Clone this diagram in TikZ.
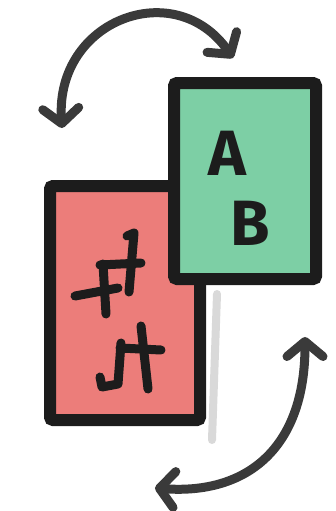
\documentclass[tikz,border=0pt]{standalone}
\usepackage{fontspec}
\setmainfont{Fira Sans}
\usepackage{xcolor}
\usepackage{tikz}
\usetikzlibrary{arrows.meta}

\definecolor{cardgreen}{RGB}{125,207,165}
\definecolor{cardred}{RGB}{236,125,122}
\definecolor{ink}{RGB}{28,28,28}
\definecolor{marker}{RGB}{58,58,58}

\begin{document}
\begin{tikzpicture}[x=1pt, y=-1pt, node distance=70pt]
\tikzstyle{redcard} = [rectangle, rounded corners=3pt, minimum width=150pt, minimum height=234pt, draw=ink, line width=12pt, fill=cardred]
\tikzstyle{greencard} = [rectangle, rounded corners=3pt, minimum width=142pt, minimum height=196pt, draw=ink, line width=12pt, fill=cardgreen]
\tikzstyle{letter} = [text=ink, font=\fontsize{64}{64}\selectfont\bfseries, inner sep=0pt]
\tikzstyle{glyph} = [draw=ink, line width=9pt, line cap=round, line join=round]
\tikzstyle{shade} = [draw=black!15, line width=8pt, line cap=round]
\tikzstyle{arrow} = [draw=marker, line width=9pt, {Straight Barb[length=15pt,width=36pt,round]}-{Straight Barb[length=15pt,width=36pt,round]}]

\useasboundingbox (0,0) rectangle (336,511);

% shadow of the back card
\draw [shade] (217,294) -- (212,440);

\node (red) [redcard] at (125,303) {};
\node (green) [greencard] at (245,181) {};

\node (a) [letter] at (227,153) {A};
\node (b) [letter, below of=a, xshift=23pt] {B};

% letters seen from the back
\draw [glyph] (127,236) -- (134,233) -- (129,292);
\draw [glyph] (100,265) -- (141,263);
\draw [glyph] (103,264) -- (106,314);
\draw [glyph] (75,296) -- (118,288);
\draw [glyph] (121,343) -- (118,384) -- (102,387) -- (100,377);
\draw [glyph] (120,348) -- (161,350);
\draw [glyph] (141,326) -- (148,389);

\coordinate (topleft) at (62,128);
\coordinate (topright) at (233,58);
\coordinate (botright) at (305,337);
\coordinate (botleft) at (155,488);

\draw [arrow] (topleft) .. controls (55,20) and (175,-25) .. (topright);
\draw [arrow] (botright) .. controls (305,450) and (245,495) .. (botleft);
\end{tikzpicture}
\end{document}
